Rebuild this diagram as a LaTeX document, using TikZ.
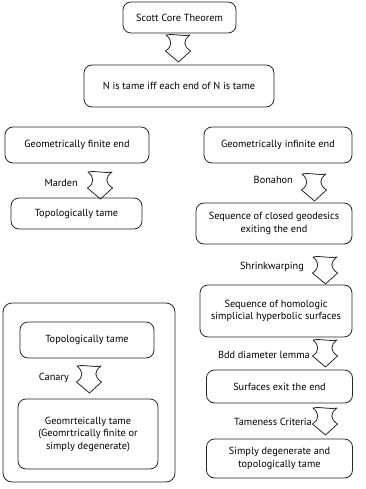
\documentclass[tikz,border=0pt]{standalone}
\usepackage{fontspec}
\setmainfont{PT Sans}
\usetikzlibrary{calc}
\tikzset{
  box/.style={draw=black!85, line width=0.8pt, rounded corners=8pt, align=center, inner sep=0pt, font=\fontsize{10.3}{12.5}\selectfont},
  lbl/.style={font=\fontsize{10.3}{12.5}\selectfont, inner sep=0pt},
  darrow/.pic={\draw[black!85, line width=0.8pt, line join=round]
     (-12,0) .. controls (-4,-1.5) and (4,1.5) .. (12,0)
     .. controls (5,5) and (5,11) .. (12.5,16)
     -- (0.5,27) -- (-12.5,16)
     .. controls (-5,11) and (-6,5) .. (-12,0) -- cycle;}
}
\begin{document}
\begin{tikzpicture}[x=1pt,y=-1pt]
\useasboundingbox (0,0) rectangle (365,489);
% left outer frame
\node[box, minimum width=172pt, minimum height=179pt, rounded corners=9pt] (outer) at (89,392.5) {};
% top
\node[box, minimum width=113pt, minimum height=31pt] (scott) at (179.5,17.5) {Scott Core Theorem};
\node[box, minimum width=190pt, minimum height=42pt] (ntame) at (179,86) {N is tame iff each end of N is tame};
% left column
\node[box, minimum width=144pt, minimum height=36pt] (gfin) at (77,145) {Geometrically finite end};
\node[box, minimum width=131pt, minimum height=31pt] (ttame) at (76.5,213.5) {Topologically tame};
% right column
\node[box, minimum width=148pt, minimum height=36pt] (ginf) at (278,145) {Geometrically infinite end};
\node[box, minimum width=156pt, minimum height=41pt] (closed) at (274,223.5) {Sequence of closed geodesics\\exiting the end};
\node[box, minimum width=152pt, minimum height=52pt] (homol) at (276,311) {Sequence of homologic\\simplicial hyperbolic surfaces};
\node[box, minimum width=146pt, minimum height=33pt] (exit) at (279.5,386.5) {Surfaces exit the end};
\node[box, minimum width=146pt, minimum height=39pt] (simply) at (279.5,458.5) {Simply degenerate and\\topologically tame};
% inner boxes of the frame
\node[box, minimum width=134pt, minimum height=36pt] (ttame2) at (87,340) {Topologically tame};
\node[box, minimum width=140pt, minimum height=70pt] (geomr) at (88,434) {Geomrteically tame\\(Geomrtrically finite or\\simply degenerate)};
% labels
\node[lbl, anchor=east] (lmarden) at (78,183) {Marden};
\node[lbl, anchor=east] (lbona) at (293,180) {Bonahon};
\node[lbl, anchor=east] (lshrink) at (304,267) {Shrinkwarping};
\node[lbl, anchor=east] (lbdd) at (310,355) {Bdd diameter lemma};
\node[lbl, anchor=east] (ltame) at (312,422) {Tameness Criteria};
\node[lbl, anchor=east] (lcanary) at (69,378) {Canary};
% block arrows
\pic at (178,35) {darrow};
\pic at (100,172) {darrow};
\pic at (314,174) {darrow};
\pic at (325,257) {darrow};
\pic at (325,340) {darrow};
\pic at (325,408) {darrow};
\pic at (89,366) {darrow};
\end{tikzpicture}
\end{document}
